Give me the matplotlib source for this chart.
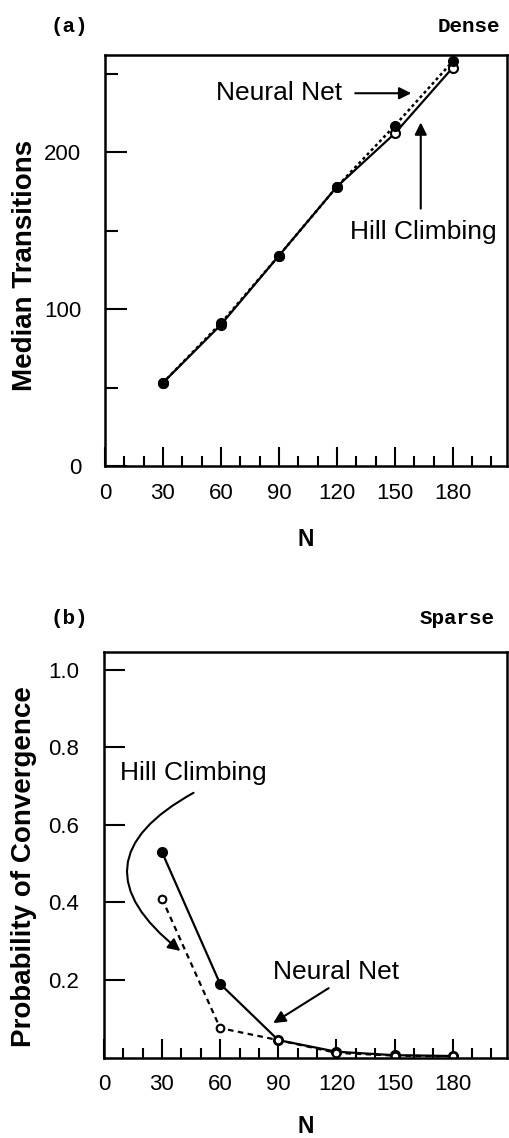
import matplotlib
matplotlib.use("Agg")
import matplotlib.pyplot as plt
from matplotlib.ticker import MultipleLocator, FixedLocator

# Problem size
n_values = [30, 60, 90, 120, 150, 180]

# (a) Dense: median transitions to convergence
dense_neural = [53, 91, 134, 178, 217, 258]
dense_hill = [53, 90, 134, 178, 212, 254]

# (b) Sparse: probability of convergence
sparse_neural = [0.53, 0.19, 0.045, 0.015, 0.006, 0.004]
sparse_hill = [0.41, 0.076, 0.045, 0.012, 0.005, 0.003]

SANS = ["Liberation Sans", "DejaVu Sans"]
MONO = ["Liberation Mono", "DejaVu Sans Mono"]

plt.rcParams["font.family"] = SANS
plt.rcParams["axes.linewidth"] = 1.8

fig = plt.figure(figsize=(5.09, 11.38), dpi=100)
ax_a = fig.add_axes([0.206, 0.5905, 0.790, 0.3612])
ax_b = fig.add_axes([0.204, 0.0707, 0.792, 0.3563])

arrow = dict(arrowstyle="-|>", mutation_scale=18, lw=1.5, color="black",
             shrinkA=0, shrinkB=0)


def style_x(ax, label_y):
    ax.set_xlim(0, 208)
    ax.xaxis.set_major_locator(MultipleLocator(30))
    ax.xaxis.set_minor_locator(MultipleLocator(10))
    ax.tick_params(axis="x", which="major", direction="in", length=14, width=1.5,
                   labelsize=16, pad=12)
    ax.tick_params(axis="x", which="minor", direction="in", length=7, width=1.5)
    ax.set_xlabel("N", fontsize=16.5, fontweight="bold")
    ax.xaxis.set_label_coords(0.5, label_y)


# ---- (a) Dense ----
ax_a.plot(n_values, dense_hill, "-", color="black", lw=1.6,
          marker="o", ms=6.5, mfc="white", mec="black", mew=1.5)
ax_a.plot(n_values, dense_neural, color="black", lw=1.8, ls=(0, (1.2, 1.2)),
          marker="o", ms=7, mfc="black", mec="black")
ax_a.set_ylim(0, 262)
ax_a.yaxis.set_major_locator(FixedLocator([0, 100, 200]))
ax_a.yaxis.set_minor_locator(FixedLocator([50, 150, 250]))
ax_a.tick_params(axis="y", which="major", direction="in", length=16, width=1.5,
                 labelsize=16, pad=17)
ax_a.tick_params(axis="y", which="minor", direction="in", length=9, width=1.5)
ax_a.set_ylabel("Median Transitions", fontsize=20, fontweight="bold")
ax_a.yaxis.set_label_coords(-0.166, 0.487)
style_x(ax_a, -0.150)

ax_a.annotate("", xy=(158.5, 237.6), xytext=(129.5, 237.6), arrowprops=arrow)
ax_a.text(57.5, 237.6, "Neural Net", fontsize=19, va="center", ha="left")
ax_a.annotate("", xy=(163.4, 219), xytext=(163.4, 164), arrowprops=arrow)
ax_a.text(127, 149, "Hill Climbing", fontsize=19, va="center", ha="left")

# ---- (b) Sparse ----
ax_b.plot(n_values, sparse_neural, "-", color="black", lw=1.6,
          marker="o", ms=7, mfc="black", mec="black")
ax_b.plot(n_values, sparse_hill, color="black", lw=1.6, ls=(0, (2.5, 2)),
          marker="o", ms=5.5, mfc="white", mec="black", mew=1.5)
ax_b.set_ylim(0, 1.046)
ax_b.yaxis.set_major_locator(FixedLocator([0.2, 0.4, 0.6, 0.8, 1.0]))
ax_b.yaxis.set_major_formatter(plt.FuncFormatter(lambda v, _: f"{v:.1f}"))
ax_b.tick_params(axis="y", which="major", direction="in", length=15, width=1.5,
                 labelsize=16, pad=18)
ax_b.set_ylabel("Probability of Convergence", fontsize=20, fontweight="bold")
ax_b.yaxis.set_label_coords(-0.166, 0.47)
style_x(ax_b, -0.142)

ax_b.text(8.3, 0.734, "Hill Climbing", fontsize=19, va="center", ha="left")
ax_b.annotate("", xy=(39.5, 0.275), xytext=(46.3, 0.683),
              arrowprops=dict(arrow, connectionstyle="arc3,rad=0.75"))
ax_b.text(87.4, 0.22, "Neural Net", fontsize=19, va="center", ha="left")
ax_b.annotate("", xy=(87.4, 0.089), xytext=(116, 0.179), arrowprops=arrow)

# Panel tags
fig.text(50 / 509, 1 - 27 / 1138, "(a)", family=MONO, fontweight="bold",
         fontsize=15, ha="left", va="center")
fig.text(500 / 509, 1 - 27 / 1138, "Dense", family=MONO, fontweight="bold",
         fontsize=15, ha="right", va="center")
fig.text(50 / 509, 1 - 618 / 1138, "(b)", family=MONO, fontweight="bold",
         fontsize=15, ha="left", va="center")
fig.text(495 / 509, 1 - 618 / 1138, "Sparse", family=MONO, fontweight="bold",
         fontsize=15, ha="right", va="center")

fig.savefig("out.png", dpi=100)
